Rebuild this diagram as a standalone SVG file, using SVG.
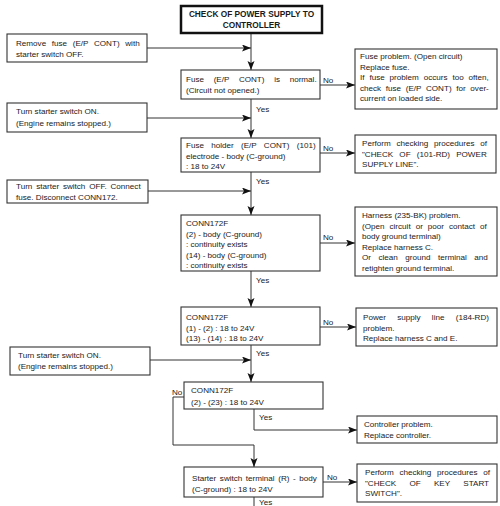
<svg xmlns="http://www.w3.org/2000/svg" width="500" height="506" viewBox="0 0 500 506">
<style>
text{font-family:"Liberation Sans",Arial,sans-serif;font-size:8.1px;fill:#1a1a1a}
.t{font-weight:bold;font-size:8.3px;text-anchor:middle}
.b{fill:#fff;stroke:#333;stroke-width:1.1}
.tb{fill:#fff;stroke:#111;stroke-width:2.5}
.c{fill:none;stroke:#333;stroke-width:1}
</style>
<defs>
<marker id="ah" markerUnits="userSpaceOnUse" markerWidth="10" markerHeight="8" refX="9" refY="3.5" orient="auto">
<path d="M0,0 L9,3.5 L0,7 L2,3.5 z" fill="#111"/>
</marker>
</defs>
<rect width="500" height="506" fill="#fff"/>

<g id="connectors">
<path class="c" d="M251,33 V70" marker-end="url(#ah)"/>
<path class="c" d="M147,48 H251" marker-end="url(#ah)"/>
<path class="c" d="M320,85 H355" marker-end="url(#ah)"/>
<path class="c" d="M251,99 V138" marker-end="url(#ah)"/>
<path class="c" d="M147,118 H251" marker-end="url(#ah)"/>
<path class="c" d="M320,153 H355" marker-end="url(#ah)"/>
<path class="c" d="M251,172 V215" marker-end="url(#ah)"/>
<path class="c" d="M148,191 H251" marker-end="url(#ah)"/>
<path class="c" d="M320,243 H355" marker-end="url(#ah)"/>
<path class="c" d="M251,271 V307" marker-end="url(#ah)"/>
<path class="c" d="M320,327 H356" marker-end="url(#ah)"/>
<path class="c" d="M150,360 H251" marker-end="url(#ah)"/>
<path class="c" d="M251,345 V382" marker-end="url(#ah)"/>
<path class="c" d="M254,409 V430 H357" marker-end="url(#ah)"/>
<path class="c" d="M184,397 H173 V445 H254 V467" marker-end="url(#ah)"/>
<path class="c" d="M323,482 H357" marker-end="url(#ah)"/>
<path class="c" d="M254,497 V506"/>
<text x="323" y="83">No</text>
<text x="256" y="112">Yes</text>
<text x="323" y="151">No</text>
<text x="256" y="184">Yes</text>
<text x="323" y="240">No</text>
<text x="256" y="283">Yes</text>
<text x="323" y="325">No</text>
<text x="256" y="356">Yes</text>
<text x="172" y="395">No</text>
<text x="259" y="420">Yes</text>
<text x="327" y="480">No</text>
<text x="259" y="505">Yes</text>
</g>

<g id="title">
<rect class="tb" x="181" y="6" width="141" height="27"/>
<text class="t" x="251.5" y="17">CHECK OF POWER SUPPLY TO</text>
<text class="t" x="251.5" y="28">CONTROLLER</text>
</g>

<g id="step-remove-fuse">
<rect class="b" x="7" y="34" width="140" height="28"/>
<text x="16" y="46" word-spacing="3.4">Remove fuse (E/P CONT) with</text>
<text x="16" y="57">starter switch OFF.</text>
</g>

<g id="check-fuse">
<rect class="b" x="181" y="70" width="139" height="29"/>
<text x="186" y="82" word-spacing="7.4">Fuse (E/P CONT) is normal.</text>
<text x="186" y="92.5">(Circuit not opened.)</text>
</g>

<g id="result-fuse">
<rect class="b" x="355" y="49" width="142" height="60"/>
<text x="360" y="59">Fuse problem.  (Open circuit)</text>
<text x="360" y="69.5">Replace fuse.</text>
<text x="360" y="80" word-spacing="2.65">If fuse problem occurs too often,</text>
<text x="360" y="90.5" word-spacing="2.4">check fuse (E/P CONT) for over-</text>
<text x="360" y="101">current on loaded side.</text>
</g>

<g id="step-switch-on-1">
<rect class="b" x="7" y="103" width="140" height="29"/>
<text x="16" y="114">Turn starter switch ON.</text>
<text x="16" y="126">(Engine remains stopped.)</text>
</g>

<g id="check-fuse-holder">
<rect class="b" x="181" y="138" width="139" height="34"/>
<text x="186" y="148" word-spacing="5">Fuse holder (E/P CONT) (101)</text>
<text x="186" y="158.5">electrode - body (C-ground)</text>
<text x="186" y="169">: 18 to 24V</text>
</g>

<g id="result-power-line-101">
<rect class="b" x="355" y="135" width="141" height="38"/>
<text x="362" y="146" word-spacing="3.4">Perform checking procedures of</text>
<text x="362" y="156.5" word-spacing="3.9">"CHECK OF (101-RD) POWER</text>
<text x="362" y="167">SUPPLY LINE".</text>
</g>

<g id="step-switch-off">
<rect class="b" x="7" y="180" width="141" height="23"/>
<text x="16" y="189" word-spacing="1.55">Turn starter switch OFF. Connect</text>
<text x="16" y="199.5">fuse.  Disconnect CONN172.</text>
</g>

<g id="check-continuity">
<rect class="b" x="181" y="215" width="139" height="56"/>
<text x="186" y="226">CONN172F</text>
<text x="186" y="236.5">(2) - body  (C-ground)</text>
<text x="186" y="247">: continuity exists</text>
<text x="186" y="257.5">(14) - body (C-ground)</text>
<text x="186" y="268">: continuity exists</text>
</g>

<g id="result-harness">
<rect class="b" x="355" y="207" width="142" height="69"/>
<text x="362" y="218">Harness (235-BK) problem.</text>
<text x="362" y="228.5" word-spacing="2.75">(Open circuit or poor contact of</text>
<text x="362" y="239">body ground terminal)</text>
<text x="362" y="249.5">Replace harness C.</text>
<text x="362" y="260" word-spacing="5.25">Or clean ground terminal and</text>
<text x="362" y="270.5">retighten ground terminal.</text>
</g>

<g id="check-voltage">
<rect class="b" x="181" y="307" width="139" height="38"/>
<text x="186" y="319.5">CONN172F</text>
<text x="186" y="330.5">(1) - (2) : 18 to 24V</text>
<text x="186" y="341">(13) - (14) : 18 to 24V</text>
</g>

<g id="result-power-line-184">
<rect class="b" x="356" y="308" width="141" height="38"/>
<text x="363" y="320" word-spacing="9">Power supply line (184-RD)</text>
<text x="363" y="330.5">problem.</text>
<text x="363" y="341">Replace harness C and E.</text>
</g>

<g id="step-switch-on-2">
<rect class="b" x="10" y="347" width="140" height="28"/>
<text x="18" y="357.5">Turn starter switch ON.</text>
<text x="18" y="369">(Engine remains stopped.)</text>
</g>

<g id="check-23">
<rect class="b" x="184" y="382" width="139" height="27"/>
<text x="191" y="393">CONN172F</text>
<text x="191" y="405">(2) - (23) : 18 to 24V</text>
</g>

<g id="result-controller">
<rect class="b" x="357" y="416" width="140" height="27"/>
<text x="364" y="426.5">Controller problem.</text>
<text x="364" y="437.5">Replace controller.</text>
</g>

<g id="check-starter">
<rect class="b" x="184" y="467" width="139" height="30"/>
<text x="192" y="480.5" word-spacing="1.3">Starter switch terminal (R) - body</text>
<text x="192" y="491.5">(C-ground)  : 18 to 24V</text>
</g>

<g id="result-key-switch">
<rect class="b" x="357" y="464" width="140" height="38"/>
<text x="365" y="475" word-spacing="3.4">Perform checking procedures of</text>
<text x="365" y="485.5" word-spacing="11">"CHECK OF KEY START</text>
<text x="365" y="496">SWITCH".</text>
</g>
</svg>
